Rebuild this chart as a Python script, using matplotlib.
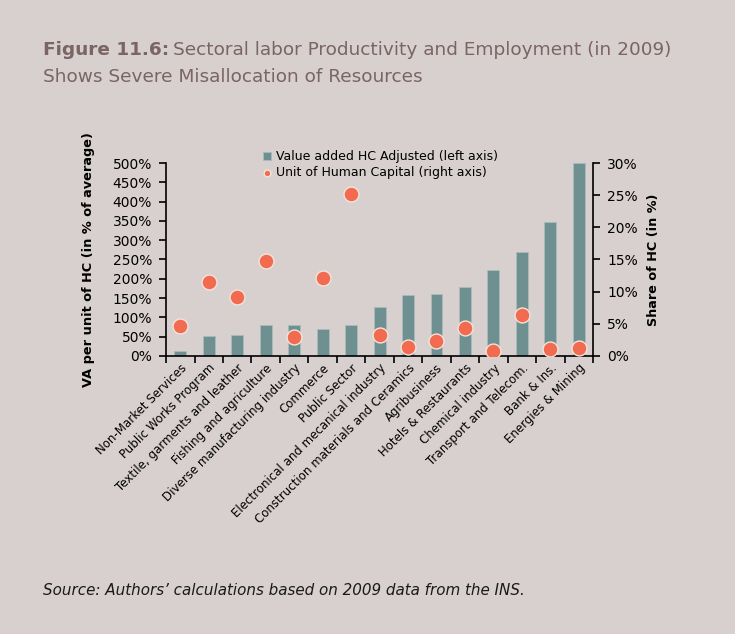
import matplotlib.pyplot as plt
import numpy as np

plt.rcParams['font.family'] = 'DejaVu Sans'

sectors = ["Non-Market Services", "Public Works Program", "Textile, garments and leather",
           "Fishing and agriculture", "Diverse manufacturing industry", "Commerce",
           "Public Sector", "Electronical and mecanical industry",
           "Construction materials and Ceramics", "Agribusiness", "Hotels & Restaurants",
           "Chemical industry", "Transport and Telecom.", "Bank & Ins.", "Energies & Mining"]

# VA per unit of HC (% of average) - left axis
va_hc = [14, 53, 55, 81, 81, 69, 81, 128, 158, 161, 178, 224, 270, 347, 500]
# share of HC (%) - right axis
hc_share = [4.6, 11.5, 9.2, 14.8, 3.0, 12.2, 25.2, 3.3, 1.35, 2.3, 4.3, 0.8, 6.4, 1.1, 1.2]

bg = '#d8d0cf'
bar_col = '#6f9090'
dot_col = '#f26a50'
title_col = '#7a6464'

fig = plt.figure(figsize=(7.35, 6.34), dpi=100, facecolor=bg)
ax = fig.add_axes([0.2259, 0.4385, 0.581, 0.3044])
ax.set_facecolor(bg)
ax2 = ax.twinx()

x = np.arange(len(sectors))
bars = ax.bar(x, va_hc, width=0.42, color=bar_col, edgecolor='#a8bcbc', linewidth=0.6,
              label='Value added HC Adjusted (left axis)')
dots = ax2.scatter(x, hc_share, s=115, color=dot_col, edgecolor='#f3e4da', linewidth=1.0,
                   zorder=3, label='Unit of Human Capital (right axis)')

ax.set_xlim(-0.5, len(sectors) - 0.5)
ax.set_ylim(0, 500)
ax2.set_ylim(0, 30)
ax.set_yticks(range(0, 501, 50))
ax.set_yticklabels([f"{v}%" for v in range(0, 501, 50)])
ax2.set_yticks(range(0, 31, 5))
ax2.set_yticklabels([f"{v}%" for v in range(0, 31, 5)])

# ticks between categories, labels at centers
ax.set_xticks(np.arange(-0.5, len(sectors), 1.0))
ax.set_xticklabels([])
ax.set_xticks(x, minor=True)
ax.set_xticklabels(sectors, minor=True, rotation=45, ha='right', va='top',
                   rotation_mode='anchor', fontsize=8.5)
ax.tick_params(axis='x', which='minor', length=0, pad=4)
ax.tick_params(axis='x', which='major', length=5, width=1.2, direction='out')
ax.tick_params(axis='y', length=5, width=1.2, labelsize=10, pad=5)
ax2.tick_params(axis='y', length=5, width=1.2, labelsize=10, pad=5)

for a in (ax, ax2):
    a.spines['top'].set_visible(False)
    for s in ('left', 'right', 'bottom'):
        a.spines[s].set_linewidth(1.2)
ax.spines['right'].set_visible(False)
ax2.spines['left'].set_visible(False)
ax2.spines['bottom'].set_visible(False)

ax.set_ylabel("VA per unit of HC (in % of average)", fontsize=9.3, fontweight='bold', labelpad=13)
ax2.set_ylabel("Share of HC (in %)", fontsize=9.2, fontweight='bold', labelpad=7)

leg = ax2.legend([bars, dots], [bars.get_label(), dots.get_label()],
                 loc='upper left', bbox_to_anchor=(257 / 735, 1 - 144 / 634),
                 bbox_transform=fig.transFigure,
                 frameon=False, fontsize=9, handlelength=0.6, handleheight=0.6,
                 handletextpad=0.4, labelspacing=0.25, borderpad=0, markerscale=0.45)

# title in two parts (bold figure number + regular text)
t1 = fig.text(43 / 735, 1 - 55 / 634, "Figure 11.6:", fontsize=13.3, fontweight='bold',
              color=title_col, va='baseline')
ax.annotate("Sectoral labor Productivity and Employment (in 2009)", xy=(1, 0), xycoords=t1,
            xytext=(3, 0), textcoords='offset points', fontsize=13.3, color=title_col,
            va='bottom', annotation_clip=False)
fig.text(43 / 735, 1 - 82 / 634, "Shows Severe Misallocation of Resources", fontsize=13.3,
         color=title_col, va='baseline')

fig.text(43 / 735, 1 - 595 / 634, "Source: Authors\u2019 calculations based on 2009 data from the INS.",
         fontsize=10.9, style='italic', color='#1a1a1a', va='baseline')

fig.savefig('out.png', dpi=100, facecolor=bg)
